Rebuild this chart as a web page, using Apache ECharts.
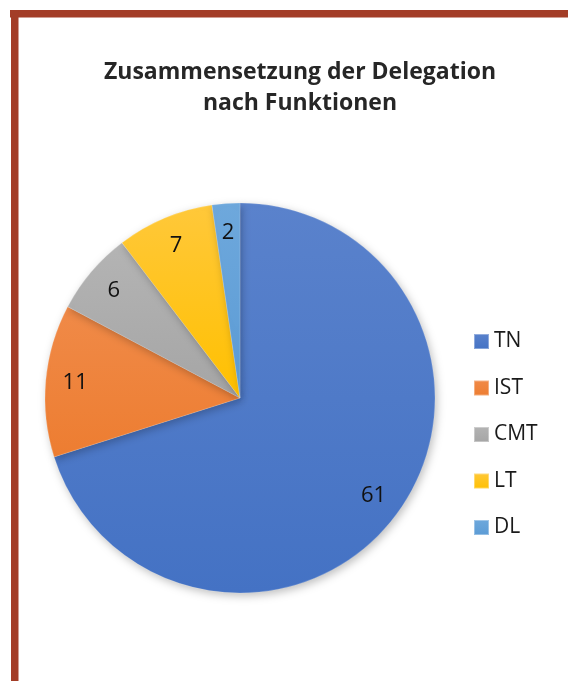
<!DOCTYPE html>
<html>
<head>
<meta charset="utf-8">
<script src="https://cdn.jsdelivr.net/npm/echarts@6/dist/echarts.min.js"></script>
<style>
  html, body { margin: 0; padding: 0; background: #fff; }
  #chart { width: 568px; height: 681px; }
</style>
</head>
<body>
<div id="chart"></div>
<script>
// Zusammensetzung der Delegation nach Funktionen
const categories = [ 'TN', 'IST', 'CMT', 'LT', 'DL' ];
const values = [ 61, 11, 6, 7, 2 ];
const colors = [ '#4472C4', '#ED7D31', '#A5A5A5', '#FFC000', '#5B9BD5' ];
const lighter = [ '#5A82CC', '#F08A48', '#B4B4B4', '#FFC83A', '#6EA8DC' ];

const FONT = '"Open Sans", "Noto Sans", sans-serif';
const center = [ 240, 398 ];
const radius = 195;

const sliceColor = ( i ) => ( {
	type: 'linear',
	x: 0, y: 0, x2: 0, y2: 1,
	colorStops: [
		{ offset: 0, color: lighter[ i ] },
		{ offset: 1, color: colors[ i ] }
	]
} );

const pieData = categories.map( ( name, i ) => ( {
	name,
	value: values[ i ],
	itemStyle: { color: sliceColor( i ) }
} ) );

// transparent ring used only to place labels further out
const labelData = categories.map( ( name, i ) => ( {
	name,
	value: values[ i ],
	itemStyle: { color: 'rgba(0,0,0,0)' }
} ) );

const chart = echarts.init( document.getElementById( 'chart' ), null, { renderer: 'canvas' } );

chart.setOption( {
	animation: false,
	color: colors,
	graphic: [
		{ type: 'rect', shape: { x: 10, y: 10, width: 558, height: 7.5 }, style: { fill: '#A33D27' } },
		{ type: 'rect', shape: { x: 11, y: 10, width: 7.5, height: 671 }, style: { fill: '#A33D27' } }
	],
	title: {
		text: 'Zusammensetzung der Delegation\nnach Funktionen',
		left: 295,
		top: 52,
		textAlign: 'center',
		textStyle: {
			fontFamily: FONT,
			fontWeight: 'bold',
			fontSize: 23,
			lineHeight: 31,
			color: '#262626'
		}
	},
	legend: {
		orient: 'vertical',
		left: 468,
		top: 326,
		itemWidth: 15,
		itemHeight: 15,
		itemGap: 25.5,
		icon: 'rect',
		data: categories,
		textStyle: { fontFamily: FONT, fontSize: 21, color: '#1a1a1a', padding: [ 0, 0, 0, 0 ] }
	},
	series: [
		{
			type: 'pie',
			center,
			radius: [ 0, radius ],
			startAngle: 90,
			clockwise: true,
			silent: true,
			data: pieData,
			label: { show: false },
			labelLine: { show: false },
			itemStyle: {
				borderColor: 'rgba(255,255,255,0.35)',
				borderWidth: 0.5,
				shadowBlur: 8,
				shadowColor: 'rgba(0,0,0,0.25)',
				shadowOffsetX: 2,
				shadowOffsetY: 3
			}
		},
		{
			type: 'pie',
			center,
			radius: [ 130, radius ],
			startAngle: 90,
			clockwise: true,
			silent: true,
			data: labelData,
			label: {
				show: true,
				position: 'inside',
				formatter: '{c}',
				fontFamily: FONT,
				fontSize: 22,
				color: '#111'
			},
			labelLine: { show: false }
		}
	]
} );
</script>
</body>
</html>
